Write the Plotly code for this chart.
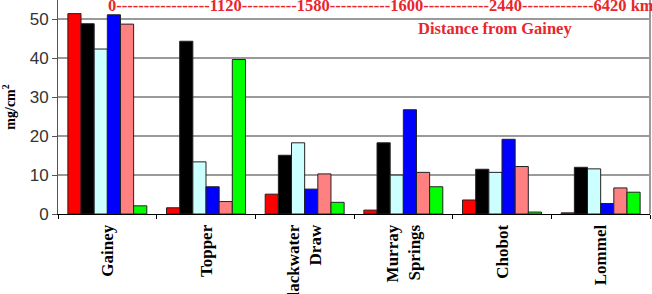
import plotly.graph_objects as go

categories = ["Gainey", "Topper", "Blackwater<br>Draw", "Murray<br>Springs", "Chobot", "Lommel"]
series_red = [51.5, 1.6, 5.1, 1.0, 3.6, 0.3]
series_black = [48.9, 44.4, 15.1, 18.3, 11.5, 12.0]
series_cyan = [42.4, 13.4, 18.3, 10.0, 10.7, 11.6]
series_blue = [51.2, 7.0, 6.4, 26.8, 19.2, 2.7]
series_salmon = [48.8, 3.2, 10.3, 10.7, 12.2, 6.7]
series_green = [2.1, 39.7, 3.0, 7.0, 0.5, 5.6]
series_colors = ["#ff0000", "#000000", "#ccffff", "#0000ff", "#ff8080", "#00ff00"]
series_values = [series_red, series_black, series_cyan, series_blue, series_salmon, series_green]

distance_text = ("0" + "-" * 17 + "1120" + "-" * 10 + "1580" + "-" * 11 + "1600"
                 + "-" * 12 + "2440" + "-" * 13 + "6420 km")

fig = go.Figure()
for vals, col in zip(series_values, series_colors):
    fig.add_trace(go.Bar(x=categories, y=vals, marker=dict(color=col, line=dict(color="#222222", width=1))))

fig.update_layout(
    width=652, height=294,
    margin=dict(l=58, r=2, t=0, b=80, autoexpand=False),
    plot_bgcolor="white", paper_bgcolor="white",
    showlegend=False,
    barmode="group", bargap=0.2, bargroupgap=0,
    xaxis=dict(showline=True, linecolor="black", linewidth=1, mirror=False, automargin=False,
               ticks="outside", tickson="boundaries", ticklen=4, tickcolor="black",
               tickangle=-90, ticklabelstandoff=3,
               tickfont=dict(family="Liberation Serif", size=17, color="black", weight="bold")),
    yaxis=dict(range=[0, 55], dtick=10, showline=True, linecolor="#555555", linewidth=1, automargin=False,
               ticks="outside", ticklen=5, tickcolor="#555555",
               showgrid=True, gridcolor="#9a9a9a", gridwidth=2,
               tickfont=dict(family="Liberation Sans", size=17, color="#333333"),
               title=dict(text="mg/cm<sup>2</sup>", standoff=10,
                          font=dict(family="Liberation Serif", size=14, color="black", weight="bold"))),
    annotations=[
        dict(text=distance_text, xref="paper", yref="y", x=(106 - 58) / 592, y=53.7,
             xanchor="left", yanchor="middle", showarrow=False,
             font=dict(family="Liberation Serif", size=16.5, color="#e8262b", weight="bold")),
        dict(text="Distance from Gainey", xref="paper", yref="y", x=(416 - 58) / 592, y=47.6,
             xanchor="left", yanchor="middle", showarrow=False,
             font=dict(family="Liberation Serif", size=16.5, color="#e8262b", weight="bold")),
    ],
)
fig.add_shape(type="line", xref="paper", yref="paper", x0=1, x1=1, y0=0, y1=1,
              line=dict(color="#9a9a9a", width=2))
fig.write_html("out.html", config={"displayModeBar": False},
               post_script="document.body.style.margin='0';document.body.style.overflow='hidden';")
